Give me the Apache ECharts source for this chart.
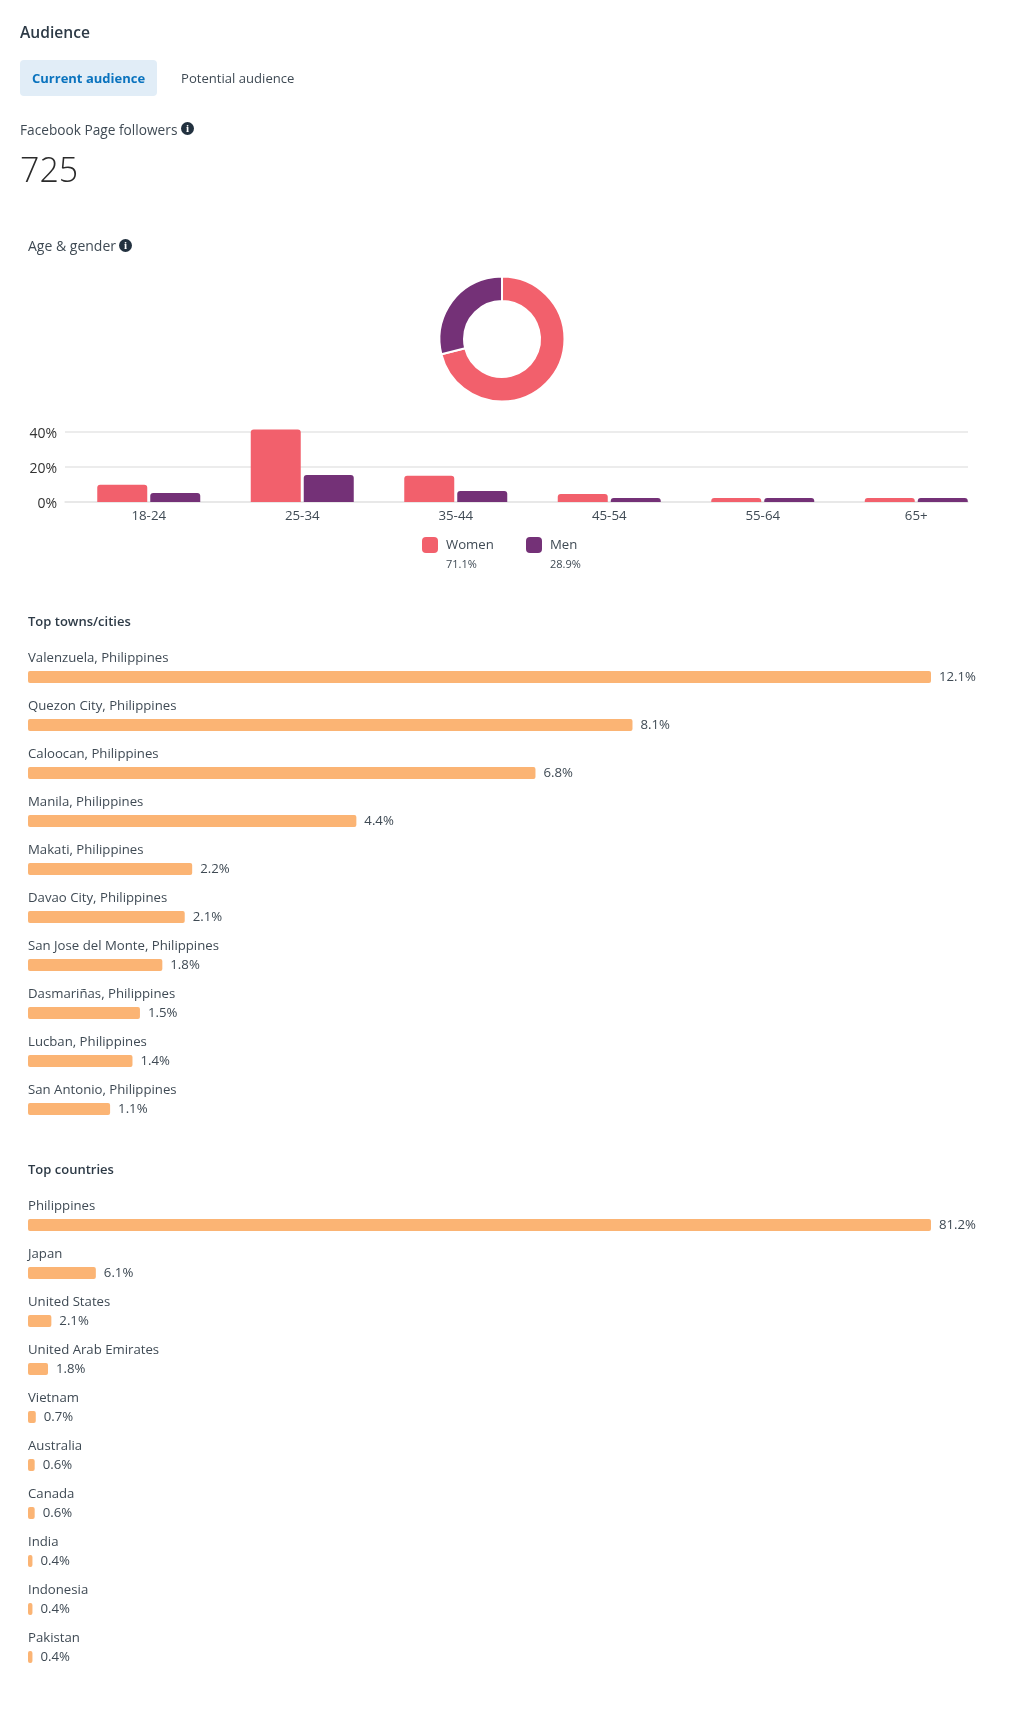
<!DOCTYPE html>
<html>
<head>
<meta charset="utf-8">
<title>Audience</title>
<script src="https://cdn.jsdelivr.net/npm/echarts@6/dist/echarts.min.js"></script>
<style>
    html, body { margin: 0; padding: 0; background: #fff; }
    body { position: relative; width: 1020px; height: 1711px; overflow: hidden; font-family: "Open Sans", sans-serif; color: #3f4a54; }
    #audienceChart { position: absolute; left: 0; top: 0; width: 1020px; height: 1711px; }
    .txt { position: absolute; white-space: nowrap; font-size: 13px; line-height: 18px; z-index: 2; }
    .head { font-weight: 600; color: #2d3a46; }
    .tab { position: absolute; left: 20px; top: 60px; width: 137px; height: 36px; background: #e1edf7; border-radius: 4px; }
    .info { position: absolute; width: 13px; height: 13px; border-radius: 50%; background: #22313f; color: #fff; font: bold 11px/13px "Liberation Serif", serif; text-align: center; z-index: 2; }
</style>
</head>
<body>
<div id="audienceChart"></div>
<div class="txt head" style="left:20px;top:22px;font-size:15.6px;line-height:20px">Audience</div>
<div class="tab"></div>
<div class="txt" style="left:32px;top:69px;font-weight:700;color:#0a73be">Current audience</div>
<div class="txt" style="left:181px;top:69px;font-size:13.1px">Potential audience</div>
<div class="txt" style="left:20px;top:121px;font-size:13.7px">Facebook Page followers</div>
<div class="info" style="left:181px;top:122px">i</div>
<div class="txt" style="left:20px;top:148px;font-size:34px;line-height:42px;font-weight:300;color:#2b2b2b">725</div>
<div class="txt" style="left:28px;top:237px;font-size:14px">Age &amp; gender</div>
<div class="info" style="left:119px;top:239px">i</div>
<div class="txt head" style="left:28px;top:612px">Top towns/cities</div>
<div class="txt head" style="left:28px;top:1160px">Top countries</div>

<script>
// Chart data
const ageGroups = ['18-24', '25-34', '35-44', '45-54', '55-64', '65+'];
const womenByAge = [9.8, 41.4, 15, 4.6, 2.3, 2.3];
const menByAge = [5.2, 15.5, 6.3, 2.3, 2.3, 2.3];
const ageTicks = [0, 20, 40];

const genderNames = ['Women', 'Men'];
const genderShare = [71.1, 28.9];

const cityNames = [
    'Valenzuela, Philippines', 'Quezon City, Philippines', 'Caloocan, Philippines',
    'Manila, Philippines', 'Makati, Philippines', 'Davao City, Philippines',
    'San Jose del Monte, Philippines', 'Dasmariñas, Philippines', 'Lucban, Philippines',
    'San Antonio, Philippines'
];
const cityValues = [12.1, 8.1, 6.8, 4.4, 2.2, 2.1, 1.8, 1.5, 1.4, 1.1];

const countryNames = [
    'Philippines', 'Japan', 'United States', 'United Arab Emirates', 'Vietnam',
    'Australia', 'Canada', 'India', 'Indonesia', 'Pakistan'
];
const countryValues = [81.2, 6.1, 2.1, 1.8, 0.7, 0.6, 0.6, 0.4, 0.4, 0.4];

// Colours
const WOMEN_COLOR = '#f2606c';
const MEN_COLOR = '#743177';
const BAR_COLOR = '#fbb474';
const TEXT_COLOR = '#3f4a54';
const FONT = '"Open Sans", sans-serif';

let audienceChart;

// Horizontal bar list: the name sits above each bar
function rankAxes(gridIndex, names, values) {
    return {
        x: { type: 'value', gridIndex, min: 0, max: values[0], show: false },
        y: {
            type: 'category', gridIndex, inverse: true, data: names,
            axisLine: { show: false }, axisTick: { show: false }, splitLine: { show: false },
            axisLabel: {
                inside: true, margin: 0, align: 'left', verticalAlign: 'bottom',
                padding: [0, 0, 12, 0], fontSize: 13.2, fontFamily: FONT, color: TEXT_COLOR
            }
        }
    };
}

function rankSeries(gridIndex, values) {
    return {
        type: 'bar', xAxisIndex: gridIndex, yAxisIndex: gridIndex, data: values,
        barWidth: 12, silent: true,
        itemStyle: { color: BAR_COLOR, borderRadius: 2 },
        label: {
            show: true, position: 'right', distance: 8, formatter: '{c}%',
            fontSize: 13.2, fontFamily: FONT, color: TEXT_COLOR, padding: [0, 0, 1, 0]
        }
    };
}

function buildOption() {
    const cities = rankAxes(2, cityNames, cityValues);
    const countries = rankAxes(3, countryNames, countryValues);
    const legendBase = {
        top: 532, itemWidth: 16, itemHeight: 16, icon: 'roundRect', selectedMode: false,
        textStyle: { fontSize: 13.2, fontFamily: FONT, color: TEXT_COLOR, padding: [0, 0, 0, 3] }, itemGap: 10
    };
    return {
        animation: false,
        grid: [
            // grid 0 only carries gridlines, grid 1 the age bars
            { left: 65, top: 432, width: 903, height: 70 },
            { left: 72, top: 414.5, width: 921, height: 87.5 },
            { left: 28, top: 653, width: 903, height: 480 },
            { left: 28, top: 1201, width: 903, height: 480 }
        ],
        xAxis: [
            {
                type: 'category', gridIndex: 0, data: ageGroups,
                axisLine: { lineStyle: { color: '#e6e6e6', width: 1.5 } },
                axisTick: { show: false }, axisLabel: { show: false }
            },
            {
                type: 'category', gridIndex: 1, data: ageGroups,
                axisLine: { show: false }, axisTick: { show: false },
                axisLabel: { margin: 8, fontSize: 13.3, fontFamily: FONT, color: TEXT_COLOR }
            },
            cities.x,
            countries.x
        ],
        yAxis: [
            {
                type: 'value', gridIndex: 0, min: ageTicks[0], max: ageTicks[2], interval: ageTicks[1],
                axisLine: { show: false }, axisTick: { show: false },
                splitLine: { lineStyle: { color: '#e6e6e6', width: 1.5 } },
                axisLabel: { margin: 8, fontSize: 14, fontFamily: FONT, color: '#333', formatter: '{value}%', verticalAlign: 'top', lineHeight: 5 }
            },
            { type: 'value', gridIndex: 1, min: 0, max: 50, show: false },
            cities.y,
            countries.y
        ],
        legend: [
            Object.assign({}, legendBase, { left: 417, data: [genderNames[0]] }),
            Object.assign({}, legendBase, { left: 521, data: [genderNames[1]] })
        ],
        graphic: [
            { type: 'text', left: 446, top: 559, style: { text: genderShare[0] + '%', fontSize: 11, fontFamily: FONT, fill: TEXT_COLOR } },
            { type: 'text', left: 550, top: 559, style: { text: genderShare[1] + '%', fontSize: 11, fontFamily: FONT, fill: TEXT_COLOR } }
        ],
        series: [
            {
                type: 'pie', center: [502, 339], radius: [38, 62.5], startAngle: 90,
                silent: true, label: { show: false }, labelLine: { show: false },
                itemStyle: { borderColor: '#fff', borderWidth: 2 },
                data: [
                    { name: genderNames[0], value: genderShare[0], itemStyle: { color: WOMEN_COLOR } },
                    { name: genderNames[1], value: genderShare[1], itemStyle: { color: MEN_COLOR } }
                ]
            },
            {
                name: genderNames[0], type: 'bar', xAxisIndex: 1, yAxisIndex: 1, data: womenByAge,
                barWidth: 50, barGap: '6%', silent: true,
                itemStyle: { color: WOMEN_COLOR, borderRadius: [3, 3, 0, 0] }
            },
            {
                name: genderNames[1], type: 'bar', xAxisIndex: 1, yAxisIndex: 1, data: menByAge,
                barWidth: 50, barGap: '6%', silent: true,
                itemStyle: { color: MEN_COLOR, borderRadius: [3, 3, 0, 0] }
            },
            rankSeries(2, cityValues),
            rankSeries(3, countryValues)
        ]
    };
}

// Start up
function init() {
    audienceChart = echarts.init(document.getElementById('audienceChart'));
    audienceChart.setOption(buildOption());
}

document.addEventListener('DOMContentLoaded', init);
</script>
</body>
</html>
